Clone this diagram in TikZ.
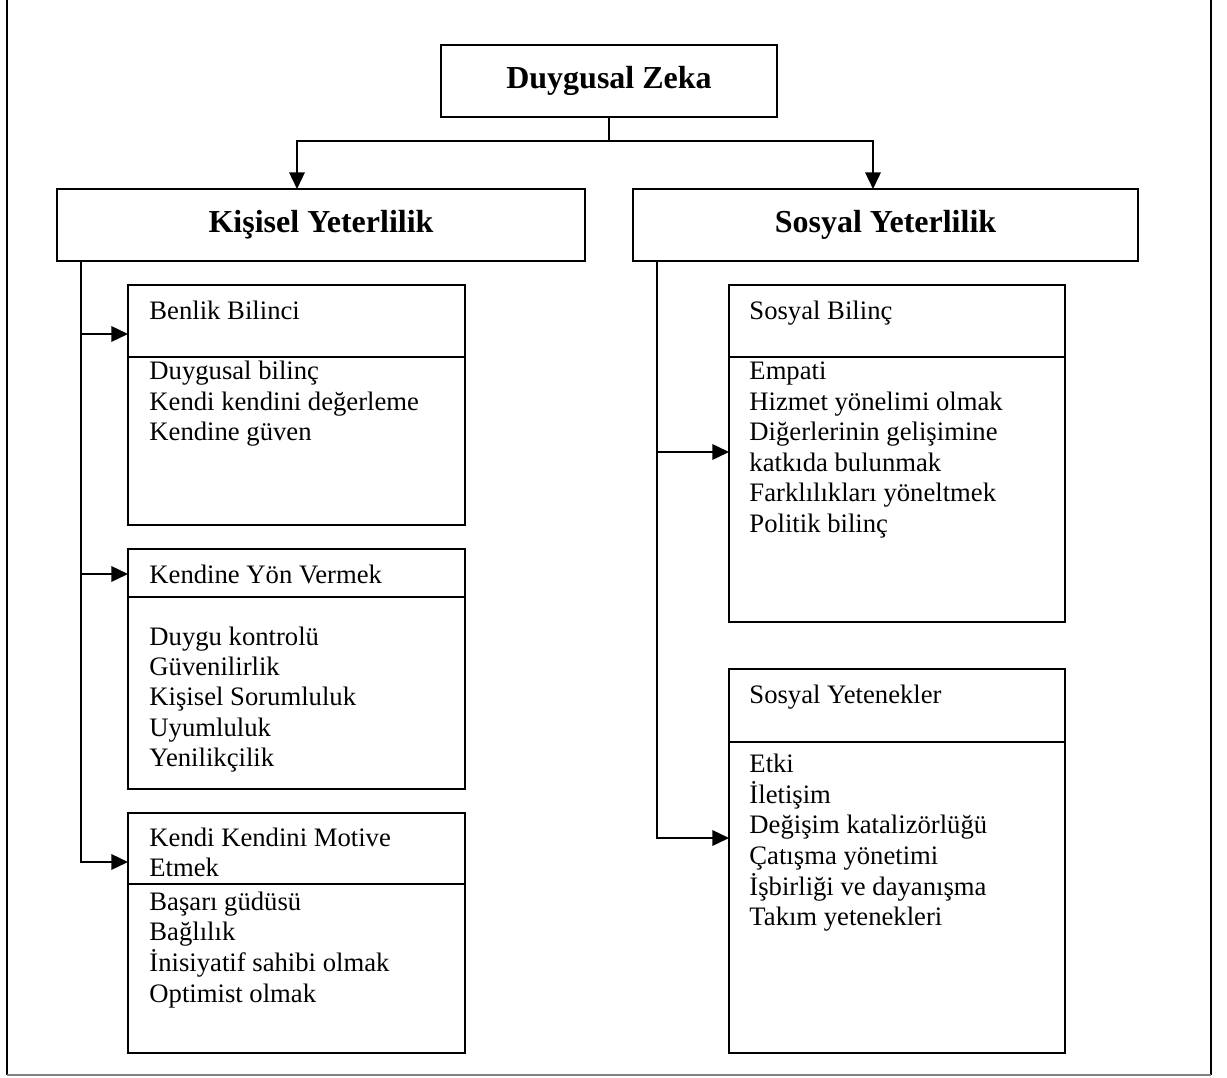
\documentclass[tikz,border=0pt]{standalone}
\usepackage{fontspec}
\setmainfont{Liberation Serif}
\usepackage{tikz}
\usetikzlibrary{arrows.meta, positioning}
\newcommand{\birim}{0.45pt}
\newcommand{\liste}[1]{\begin{tabular}[t]{@{}l@{}}#1\end{tabular}}
\tikzstyle{kutu} = [rectangle, draw=black, line width=0.8pt, inner sep=0pt, outer sep=0pt, anchor=north west]
\tikzstyle{baslik} = [font=\fontsize{14.4}{16}\selectfont\bfseries]
\tikzstyle{yazi} = [anchor=base west, inner sep=0pt, font=\fontsize{12}{13.72}\selectfont]
\tikzstyle{ok} = [line width=0.8pt, -{Triangle[length=7.5pt, width=7pt]}]

\begin{document}
\begin{tikzpicture}[x=\birim, y=-\birim]
    \useasboundingbox (0,0) rectangle (1227,1078);
    % dis cerceve
    \draw[line width=0.8pt] (7,-10) -- (7,1075);
    \draw[line width=0.8pt] (1211,-10) -- (1211,1075);
    \draw[line width=0.8pt, gray] (7,1075) -- (1211,1075);

    % ana kutular
    \node[kutu, minimum width=336*\birim, minimum height=72*\birim] (zeka) at (441,45) {};
    \node[baslik] at (zeka.center) {Duygusal Zeka};
    \node[kutu, minimum width=528*\birim, minimum height=72*\birim] (kisisel) at (57,189) {};
    \node[baslik] at (kisisel.center) {Kişisel Yeterlilik};
    \node[kutu, minimum width=505*\birim, minimum height=72*\birim] (sosyal) at (633,189) {};
    \node[baslik] at (sosyal.center) {Sosyal Yeterlilik};

    % alt kutular - sol
    \node[kutu, minimum width=337*\birim, minimum height=240*\birim] (benlik) at (128,285) {};
    \draw[line width=0.8pt] (benlik.west |- 0,357) -- (benlik.east |- 0,357);
    \node[yazi] (benlikB) at (149,320) {Benlik Bilinci};
    \node[yazi] (benlikM) at (149,380) {\liste{Duygusal bilinç\\Kendi kendini değerleme\\Kendine güven}};

    \node[kutu, minimum width=337*\birim, minimum height=240*\birim] (yon) at (128,549) {};
    \draw[line width=0.8pt] (yon.west |- 0,597) -- (yon.east |- 0,597);
    \node[yazi] (yonB) at (149,583) {Kendine Yön Vermek};
    \node[yazi] (yonM) at (149,645) {\liste{Duygu kontrolü\\Güvenilirlik\\Kişisel Sorumluluk\\Uyumluluk\\Yenilikçilik}};

    \node[kutu, minimum width=337*\birim, minimum height=240*\birim] (motive) at (128,813) {};
    \draw[line width=0.8pt] (motive.west |- 0,884) -- (motive.east |- 0,884);
    \node[yazi] (motiveB) at (149,846) {\liste{Kendi Kendini Motive\\Etmek}};
    \node[yazi] (motiveM) at (149,910) {\liste{Başarı güdüsü\\Bağlılık\\İnisiyatif sahibi olmak\\Optimist olmak}};

    % alt kutular - sag
    \node[kutu, minimum width=336*\birim, minimum height=337*\birim] (sbilinc) at (729,285) {};
    \draw[line width=0.8pt] (sbilinc.west |- 0,357) -- (sbilinc.east |- 0,357);
    \node[yazi] (sbilincB) at (749,320) {Sosyal Bilinç};
    \node[yazi] (sbilincM) at (749,380) {\liste{Empati\\Hizmet yönelimi olmak\\Diğerlerinin gelişimine\\katkıda bulunmak\\Farklılıkları yöneltmek\\Politik bilinç}};

    \node[kutu, minimum width=336*\birim, minimum height=384*\birim] (syetenek) at (729,669) {};
    \draw[line width=0.8pt] (syetenek.west |- 0,742) -- (syetenek.east |- 0,742);
    \node[yazi] (syetenekB) at (749,703) {Sosyal Yetenekler};
    \node[yazi] (syetenekM) at (749,772) {\liste{Etki\\İletişim\\Değişim katalizörlüğü\\Çatışma yönetimi\\İşbirliği ve dayanışma\\Takım yetenekleri}};

    % baglantilar
    \coordinate (bolme) at (609,141);
    \coordinate (kisiselOk) at (297,189);
    \coordinate (sosyalOk) at (873,189);
    \draw[line width=0.8pt] (zeka.south) -- (bolme);
    \draw[ok] (bolme) -| (kisiselOk);
    \draw[ok] (bolme) -| (sosyalOk);

    \coordinate (solKok) at (81,261);
    \coordinate (benlikOk) at (128,334);
    \coordinate (yonOk) at (128,574);
    \coordinate (motiveOk) at (128,862);
    \draw[ok] (solKok) |- (motiveOk);
    \draw[ok] (solKok |- benlikOk) -- (benlikOk);
    \draw[ok] (solKok |- yonOk) -- (yonOk);

    \coordinate (sagKok) at (657,261);
    \coordinate (sbilincOk) at (729,452);
    \coordinate (syetenekOk) at (729,838);
    \draw[ok] (sagKok) |- (syetenekOk);
    \draw[ok] (sagKok |- sbilincOk) -- (sbilincOk);
\end{tikzpicture}
\end{document}
